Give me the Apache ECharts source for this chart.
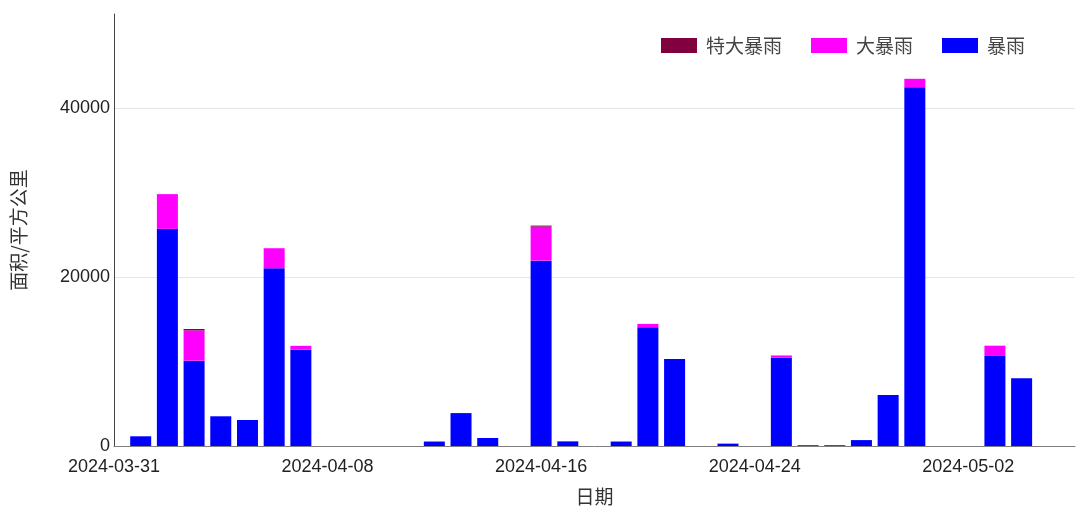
<!DOCTYPE html>
<html>
<head>
<meta charset="utf-8">
<script src="https://cdn.jsdelivr.net/npm/echarts@6/dist/echarts.min.js"></script>
<style>
    html, body { margin: 0; padding: 0; background: #fff; }
    #main { width: 1080px; height: 511px; }
</style>
</head>
<body>
<div id="main"></div>
<script>
// 坐标轴日期范围
var startDate = '2024-03-31';
var endDate = '2024-05-06';

// 有数据的日期
var dates = ['2024-04-01', '2024-04-02', '2024-04-03', '2024-04-04', '2024-04-05', '2024-04-06', '2024-04-07',
    '2024-04-12', '2024-04-13', '2024-04-14', '2024-04-16', '2024-04-17', '2024-04-19', '2024-04-20',
    '2024-04-21', '2024-04-23', '2024-04-25', '2024-04-26', '2024-04-27', '2024-04-28', '2024-04-29',
    '2024-04-30', '2024-05-03', '2024-05-04'];

// 面积/平方公里
var baoyu = [1150, 25730, 10110, 3520, 3080, 21070, 11450,
    530, 3900, 950, 21970, 550, 530, 14070,
    10320, 280, 10460, 90, 90, 700, 6050,
    42530, 10670, 8030];
var dabaoyu = [0, 4120, 3590, 0, 0, 2370, 420,
    0, 0, 0, 4030, 0, 0, 400,
    0, 0, 270, 0, 0, 0, 0,
    990, 1220, 0];
var tedabaoyu = [0, 0, 170, 0, 0, 0, 0,
    0, 0, 0, 120, 0, 0, 0,
    0, 0, 0, 0, 0, 0, 0,
    0, 0, 0];

var DAY = 86400000;

function fmtDate(t) {
    var d = new Date(t);
    var m = d.getUTCMonth() + 1, dd = d.getUTCDate();
    return d.getUTCFullYear() + '-' + (m < 10 ? '0' + m : m) + '-' + (dd < 10 ? '0' + dd : dd);
}

// 每天一个类目
var allDays = [];
for (var t = Date.parse(startDate); t <= Date.parse(endDate); t += DAY) {
    allDays.push(fmtDate(t));
}

function toSeries(values) {
    var out = [];
    for (var i = 0; i < dates.length; i++) {
        out.push([dates[i], values[i]]);
    }
    return out;
}

var fontFamily = 'Liberation Sans, Arial, Noto Sans CJK SC, sans-serif';

var myChart = echarts.init(document.getElementById('main'));

var option = {
    animation: false,
    textStyle: { fontFamily: fontFamily },
    legend: {
        data: ['特大暴雨', '大暴雨', '暴雨'],
        left: 656,
        top: 31,
        itemWidth: 36,
        itemHeight: 15,
        itemGap: 29,
        icon: 'rect',
        textStyle: {
            fontFamily: 'Noto Sans CJK SC',
            fontSize: 19,
            color: '#444',
            padding: [0, 0, 0, 4]
        }
    },
    grid: {
        left: 114,
        right: 5,
        top: 14,
        bottom: 65,
        containLabel: false
    },
    xAxis: {
        type: 'category',
        data: allDays,
        boundaryGap: false,
        name: '日期',
        nameLocation: 'middle',
        nameGap: 41,
        nameTextStyle: {
            fontFamily: 'Noto Sans CJK SC',
            fontSize: 19,
            color: '#333'
        },
        axisLine: { show: true, lineStyle: { color: '#7f7f7f', width: 1 } },
        axisTick: { show: false },
        splitLine: { show: false },
        axisLabel: {
            interval: 7,
            margin: 12,
            fontSize: 18,
            color: '#222'
        }
    },
    yAxis: {
        type: 'value',
        min: 0,
        max: 51200,
        interval: 20000,
        name: '面积/平方公里',
        nameLocation: 'middle',
        nameRotate: 90,
        nameGap: 86,
        nameTextStyle: {
            fontFamily: 'Noto Sans CJK SC',
            fontSize: 19,
            color: '#333'
        },
        axisLine: { show: true, lineStyle: { color: '#444', width: 1 } },
        axisTick: { show: false },
        splitLine: { show: true, showMaxLine: false, lineStyle: { color: '#e6e6e6', width: 1 } },
        axisLabel: {
            margin: 4,
            fontSize: 18,
            color: '#222',
            showMaxLabel: false,
            formatter: function(v) {
                return String(v);
            }
        }
    },
    series: [{
            name: '暴雨',
            type: 'bar',
            stack: 'area',
            barWidth: 21,
            itemStyle: { color: '#0000ff' },
            data: toSeries(baoyu)
        },
        {
            name: '大暴雨',
            type: 'bar',
            stack: 'area',
            barWidth: 21,
            itemStyle: { color: '#ff00ff' },
            data: toSeries(dabaoyu)
        },
        {
            name: '特大暴雨',
            type: 'bar',
            stack: 'area',
            barWidth: 21,
            itemStyle: { color: '#800040' },
            data: toSeries(tedabaoyu)
        }
    ]
};

myChart.setOption(option);
</script>
</body>
</html>
